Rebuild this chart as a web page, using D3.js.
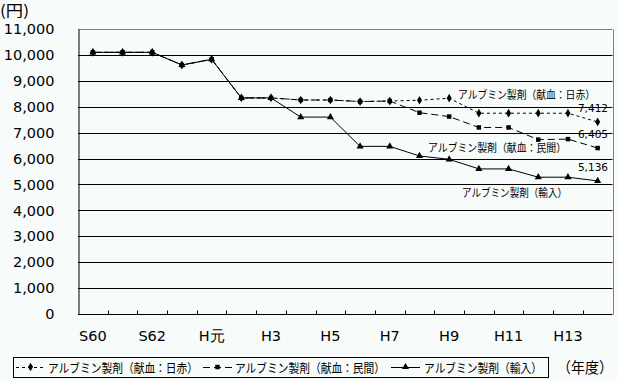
<!DOCTYPE html>
<html lang="ja">

<head>
    <meta charset="UTF-8">
    <script src="https://cdn.jsdelivr.net/npm/d3@7"></script>
    <style>
        body { margin: 0; background: #f7fbf9; }
        svg { display: block; }
        .num { font-family: "DejaVu Sans", sans-serif; fill: #000; }
        .jp { font-family: "Noto Sans CJK JP", sans-serif; fill: #000; }
    </style>
</head>

<body>
    <div id="chart"></div>
</body>

<script>
    // DATA

    // fiscal years S60 .. H14
    const CATEGORIES = ["S60", "S61", "S62", "S63", "H元", "H2", "H3", "H4", "H5",
        "H6", "H7", "H8", "H9", "H10", "H11", "H12", "H13", "H14"];
    // only every other year carries a label
    const TICK_LABELS = ["S60", "S62", "H元", "H3", "H5", "H7", "H9", "H11", "H13"];
    const Y_TICKS = [0, 1000, 2000, 3000, 4000, 5000, 6000, 7000, 8000, 9000, 10000, 11000];

    const SERIES_NAMES = ["アルブミン製剤（献血：日赤）", "アルブミン製剤（献血：民間）", "アルブミン製剤（輸入）"];
    const NISSEKI = [10100, 10100, 10100, 9610, 9830, 8340, 8340, 8260, 8260,
        8200, 8220, 8250, 8330, 7750, 7750, 7750, 7750, 7412];
    const MINKAN = [10100, 10100, 10100, 9610, 9830, 8340, 8340, 8260, 8260,
        8200, 8220, 7770, 7620, 7200, 7200, 6730, 6750, 6405];
    const YUNYU = [10100, 10100, 10100, 9610, 9830, 8340, 8340, 7600, 7600,
        6470, 6470, 6100, 5970, 5600, 5600, 5280, 5280, 5136];

    // SVG SETUP

    const WIDTH = 617;
    const HEIGHT = 380;
    const PLOT = { left: 78, right: 612.5, top: 29, bottom: 314 };

    const svg = d3.select("#chart").append("svg")
        .attr("width", WIDTH)
        .attr("height", HEIGHT);

    const x = d3.scaleBand()
        .domain(CATEGORIES)
        .range([PLOT.left, PLOT.right])
        .padding(0);
    const y = d3.scaleLinear()
        .domain([0, 11000])
        .range([PLOT.bottom, PLOT.top]);
    const cx = d => x(d) + x.bandwidth() / 2;

    // GRID / AXES

    // horizontal grid lines (top one is the grey frame)
    svg.append("g")
        .selectAll("line")
        .data(Y_TICKS.filter(v => v > 0))
        .enter()
        .append("line")
        .attr("x1", PLOT.left).attr("x2", PLOT.right)
        .attr("y1", d => Math.round(y(d)) + 0.5)
        .attr("y2", d => Math.round(y(d)) + 0.5)
        .attr("stroke", d => d === 11000 ? "#808080" : "#000")
        .attr("stroke-width", 1);

    // right frame edge
    svg.append("line")
        .attr("x1", Math.round(PLOT.right) + 0.5).attr("x2", Math.round(PLOT.right) + 0.5)
        .attr("y1", Math.round(y(11000)) + 0.5).attr("y2", Math.round(y(0)) + 0.5)
        .attr("stroke", "#808080");

    // y axis with labels
    const yAxis = svg.append("g")
        .attr("transform", `translate(${PLOT.left + 0.5},0)`)
        .call(d3.axisLeft(y).tickValues(Y_TICKS).tickSize(0).tickPadding(24)
            .tickFormat(d3.format(",")));
    yAxis.select(".domain").attr("stroke", "#000");
    yAxis.selectAll("text")
        .attr("class", "num")
        .style("font-size", "14.5px")
        .attr("font-family", null);

    // x axis: inward ticks on category boundaries, labels every other year
    const xAxisY = Math.round(y(0)) + 0.5;
    svg.append("line")
        .attr("x1", PLOT.left).attr("x2", PLOT.right)
        .attr("y1", xAxisY).attr("y2", xAxisY)
        .attr("stroke", "#000");
    svg.append("g")
        .selectAll("line")
        .data(CATEGORIES.slice(1))
        .enter()
        .append("line")
        .attr("x1", d => Math.round(x(d)) + 0.5)
        .attr("x2", d => Math.round(x(d)) + 0.5)
        .attr("y1", xAxisY).attr("y2", xAxisY - 4)
        .attr("stroke", "#000");
    svg.append("g")
        .selectAll("text")
        .data(TICK_LABELS)
        .enter()
        .append("text")
        .attr("class", "num")
        .attr("x", d => cx(d))
        .attr("y", 341)
        .attr("text-anchor", "middle")
        .style("font-size", "14.5px")
        .text(d => d);

    // SERIES

    const symDiamond = d3.symbol().type(d3.symbolDiamond).size(22);
    const symSquare = d3.symbol().type(d3.symbolSquare).size(20);
    const symTriangle = d3.symbol().type(d3.symbolTriangle).size(22);

    const SERIES = [
        { name: SERIES_NAMES[2], values: YUNYU, dash: null, sym: symTriangle },
        { name: SERIES_NAMES[0], values: NISSEKI, dash: "3,3", sym: symDiamond },
        { name: SERIES_NAMES[1], values: MINKAN, dash: "7,4", sym: symSquare },
    ];

    const line = d3.line()
        .x((d, i) => cx(CATEGORIES[i]))
        .y(d => y(d));

    SERIES.forEach(s => {
        svg.append("path")
            .datum(s.values)
            .attr("d", line)
            .attr("fill", "none")
            .attr("stroke", "#000")
            .attr("stroke-width", 1)
            .attr("stroke-dasharray", s.dash);
        svg.append("g")
            .selectAll("path")
            .data(s.values)
            .enter()
            .append("path")
            .attr("d", s.sym())
            .attr("transform", (d, i) => `translate(${cx(CATEGORIES[i])},${y(d)})`)
            .attr("fill", "#000");
    });

    // LABELS IN THE PLOT

    const fmt = d3.format(",");
    const label = (txt, xx, yy, len) => svg.append("text")
        .attr("class", "jp")
        .attr("x", xx).attr("y", yy)
        .attr("dominant-baseline", "central")
        .attr("textLength", len)
        .attr("lengthAdjust", "spacingAndGlyphs")
        .style("font-size", "11px")
        .text(txt);
    label(SERIES_NAMES[0], 458, 93.5, 137);
    label(SERIES_NAMES[1], 428, 147, 138);
    label(SERIES_NAMES[2], 462, 192, 105);

    const endValues = [NISSEKI, MINKAN, YUNYU].map(v => v[v.length - 1]);
    const endY = [107.5, 134, 167];
    svg.append("g")
        .selectAll("text")
        .data(endValues)
        .enter()
        .append("text")
        .attr("class", "num")
        .attr("x", 608)
        .attr("y", (d, i) => endY[i])
        .attr("dominant-baseline", "central")
        .attr("text-anchor", "end")
        .style("font-size", "10.5px")
        .text(d => fmt(d));

    // unit labels
    svg.append("text")
        .attr("class", "jp")
        .attr("x", 0).attr("y", 9)
        .attr("dominant-baseline", "central")
        .attr("textLength", 29)
        .attr("lengthAdjust", "spacingAndGlyphs")
        .style("font-size", "15px")
        .text("(円)");
    svg.append("text")
        .attr("class", "jp")
        .attr("x", 557).attr("y", 366)
        .attr("dominant-baseline", "central")
        .attr("textLength", 56)
        .attr("lengthAdjust", "spacingAndGlyphs")
        .style("font-size", "15px")
        .text("（年度）");

    // LEGEND

    const LEG = { left: 13, right: 548, top: 357, bottom: 377 };
    const legY = (LEG.top + LEG.bottom) / 2;
    svg.append("rect")
        .attr("x", LEG.left + 0.5).attr("y", LEG.top + 0.5)
        .attr("width", LEG.right - LEG.left).attr("height", LEG.bottom - LEG.top)
        .attr("fill", "none")
        .attr("stroke", "#000");

    // sample start, text start, text width
    const legItems = [
        { s: SERIES[1], x0: 16, tx: 48, tw: 150 },
        { s: SERIES[2], x0: 203, tx: 235, tw: 150 },
        { s: SERIES[0], x0: 391, tx: 424, tw: 118 },
    ];
    legItems.forEach(it => {
        svg.append("line")
            .attr("x1", it.x0).attr("x2", it.x0 + 29)
            .attr("y1", legY + 0.5).attr("y2", legY + 0.5)
            .attr("stroke", "#000")
            .attr("stroke-dasharray", it.s.dash);
        svg.append("path")
            .attr("d", it.s.sym())
            .attr("transform", `translate(${it.x0 + 14.5},${legY})`)
            .attr("fill", "#000");
        svg.append("text")
            .attr("class", "jp")
            .attr("x", it.tx).attr("y", legY)
            .attr("dominant-baseline", "central")
            .attr("textLength", it.tw)
            .attr("lengthAdjust", "spacingAndGlyphs")
            .style("font-size", "12.5px")
            .text(it.s.name);
    });
</script>

</html>
